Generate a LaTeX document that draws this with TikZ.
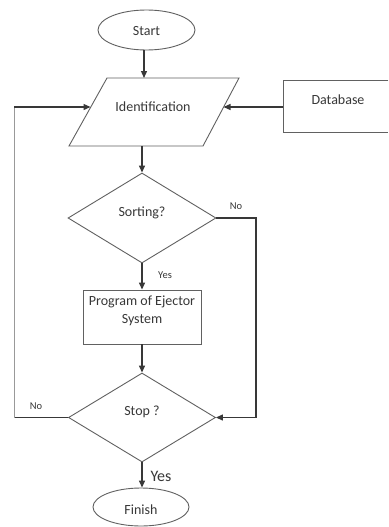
\documentclass[tikz,border=0pt]{standalone}
\usepackage{fontspec}
\setmainfont{Carlito}
\usetikzlibrary{shapes.geometric,arrows.meta}
\definecolor{outl}{gray}{0.38}
\definecolor{txt}{gray}{0.22}
\begin{document}
\begin{tikzpicture}[x=1pt,y=-1pt,
  shp/.style={draw=outl,line width=0.9pt,inner sep=0pt},
  arr/.style={-{Triangle[length=7pt,width=6pt]},line width=1.3pt,draw=black!78},
  ln/.style={line width=1.3pt,draw=black!78},
  lnlight/.style={line width=0.9pt,draw=black!40},
  lbl/.style={text=txt,font=\fontsize{14}{18}\selectfont,inner sep=0pt,align=center},
  small/.style={text=txt,font=\fontsize{10.5}{12}\selectfont,inner sep=0pt},
  big/.style={text=txt,font=\fontsize{16}{18}\selectfont,inner sep=0pt},
]
\useasboundingbox (0,0) rectangle (388,527);
\fill[white] (0,0) rectangle (388,527);

% Start
\node[shp,ellipse,minimum width=97pt,minimum height=40pt] (start) at (146.5,30) {};
\node[lbl] (starttext) at (146.5,31) {Start};

% Identification (parallelogram)
\draw[shp] (107,78) -- (239,78) -- (203,146) -- (69,146) -- cycle;
\node[lbl] (ident) at (153,107) {Identification};
\coordinate (idtop) at (144,78);
\coordinate (idleft) at (90.5,107);
\coordinate (idright) at (223.5,107);
\coordinate (idbot) at (142,146);

% Database (box runs off the right edge)
\node[inner sep=0pt,minimum width=105pt,minimum height=52pt,anchor=north west] (db) at (283,80) {};
\draw[shp] (db.north east) -- (db.north west) -- (db.south west) -- (db.south east);
\node[lbl] (dbtext) at (338,100) {Database};

% Sorting?
\node[shp,diamond,minimum width=148pt,minimum height=90pt] (sort) at (142,218) {};
\node[lbl] (sorttext) at (142,213) {Sorting?};

% Program
\node[shp,rectangle,minimum width=118pt,minimum height=54pt] (prog) at (142,317) {};
\node[lbl] (progtext) at (142,311) {Program of Ejector\\System};

% Stop?
\node[shp,diamond,minimum width=147pt,minimum height=89pt] (stop) at (142,417.5) {};
\node[lbl] (stoptext) at (142,412) {Stop ?};

% Finish
\node[shp,ellipse,minimum width=96pt,minimum height=38pt] (finish) at (141,507) {};
\node[lbl] (finishtext) at (141,510) {Finish};

% loop coordinates
\coordinate (rc1) at (256,218);
\coordinate (rc2) at (256,417.5);
\coordinate (lc1) at (14,417.5);
\coordinate (lc2) at (14,107);

% connectors
\draw[arr] (idtop |- start.south) -- (idtop);
\draw[arr] (db.west |- idright) -- (idright);
\draw[arr] (idbot) -- (sort.north);
\draw[arr] (sort.south) -- (prog.north);
\draw[arr] (prog.south) -- (stop.north);
\draw[arr] (stop.south) -- (stop.south |- finish.north);
\draw[arr] (sort.east) -- (rc1) -- (rc2) -- (stop.east);
\draw[ln] (stop.west) -- (lc1);
\draw[lnlight] (lc1) -- (lc2);
\draw[arr] (lc2) -- (idleft);

% labels
\node[small] (nosort) at (236,206) {No};
\node[small] (yessort) at (165,275) {Yes};
\node[small] (nostop) at (36,406) {No};
\node[big] (yesstop) at (161,476) {Yes};
\end{tikzpicture}
\end{document}
